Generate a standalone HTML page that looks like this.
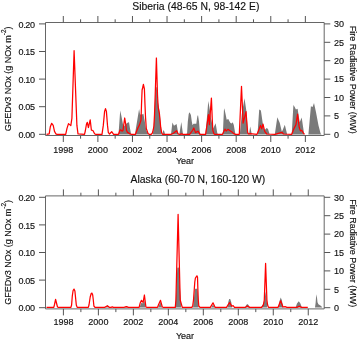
<!DOCTYPE html>
<html><head><meta charset="utf-8"><style>
html,body{margin:0;padding:0;background:#fff;overflow:hidden;width:357px;height:340px;}
svg{display:block;will-change:transform;}
.t{font-family:"Liberation Sans",sans-serif;font-size:9px;fill:#111;stroke:#111;stroke-width:0.15px;}
</style></head><body>
<svg width="357" height="340" viewBox="0 0 357 340">
<polygon points="118.5,134.4 120.2,110.6 121.5,116.4 122.8,123.4 124.0,126.4 126.5,123.4 128.0,122.4 129.0,122.2 130.0,128.4 131.2,134.4 135.0,134.4 135.4,131.4 139.1,108.9 140.1,114.5 142.1,114.5 143.4,113.7 144.6,120.3 146.3,130.4 148.0,133.6 148.5,134.4 152.8,134.4 153.6,128.4 154.5,112.4 155.2,95.3 155.9,87.3 156.7,87.3 157.5,96.3 158.1,103.3 158.8,106.3 159.8,113.4 160.4,120.4 161.0,127.4 161.7,133.4 162.0,134.4 162.3,134.4 163.0,131.4 163.6,130.1 164.3,131.4 165.2,134.4 171.0,134.4 172.4,122.5 174.0,125.7 176.6,124.0 178.2,133.3 179.3,134.4 181.3,122.1 183.0,134.4 186.2,134.4 187.1,133.0 187.8,121.7 188.7,114.0 189.6,112.3 190.9,115.0 191.8,121.6 192.5,125.3 193.5,123.7 196.3,123.7 197.3,116.6 198.0,115.0 199.0,121.6 199.9,132.4 200.5,134.4 205.4,134.4 206.9,117.9 208.3,100.9 209.9,110.4 211.0,118.4 213.2,128.4 215.6,123.3 217.3,132.9 218.0,134.4 222.5,134.4 222.9,132.6 223.9,110.4 224.3,108.3 225.6,114.2 226.7,119.7 228.3,119.1 229.4,121.3 230.5,123.0 231.6,123.4 232.7,122.3 233.8,125.0 234.9,131.6 235.5,134.4 239.8,134.4 241.8,113.9 244.5,98.2 246.3,110.4 248.0,133.6 249.0,134.4 250.2,126.4 251.8,134.4 257.5,134.4 259.2,109.6 260.9,110.5 262.6,122.2 264.2,130.6 266.7,128.1 268.0,128.9 269.7,134.4 274.8,134.4 277.3,117.2 279.8,123.1 281.8,131.4 282.5,130.4 284.8,124.8 287.2,134.4 291.7,134.4 293.4,105.1 294.7,107.1 295.9,109.6 297.6,108.8 299.7,122.2 301.7,117.6 304.2,134.4 308.4,134.4 310.9,106.2 312.6,107.1 314.0,102.9 316.0,112.2 318.5,125.6 320.6,133.6 321.5,134.4" fill="#7a7a7a"/>
<polyline points="46.5,134.4 49.2,133.8 50.3,126.8 51.7,123.3 53.2,125.4 54.5,131.4 55.8,133.8 57.0,134.3 58.0,134.3 65.7,134.3 67.0,128.4 68.5,123.6 70.8,125.6 71.9,118.4 74.1,50.7 76.9,125.4 78.0,133.9 84.5,134.3 85.3,131.0 86.5,124.0 87.3,122.4 88.4,127.5 90.2,119.9 91.4,130.2 92.9,130.5 94.6,133.8 95.5,134.3 102.0,134.3 103.3,125.4 104.6,111.4 105.5,108.6 106.4,111.4 107.5,125.4 108.3,132.4 109.5,134.0 111.7,131.7 113.6,134.3 118.5,134.3 120.0,130.2 120.8,129.9 122.0,131.2 123.0,130.4 124.7,118.0 125.8,124.9 126.5,130.4 127.5,132.4 130.0,133.9 131.5,134.3 135.5,134.3 136.2,132.3 137.9,128.0 139.6,124.6 141.0,120.0 141.5,105.0 142.1,90.0 142.6,88.0 143.4,84.4 144.4,89.0 145.0,105.0 145.5,117.0 146.3,128.5 148.0,133.4 149.0,134.3 151.2,134.3 152.3,133.2 153.2,130.0 153.9,126.0 154.5,115.1 155.2,95.0 156.4,58.0 157.5,95.0 158.2,107.3 159.4,113.6 160.0,119.8 160.7,127.2 161.7,132.8 162.5,134.3 171.3,134.3 173.4,133.3 176.6,130.7 178.2,134.0 180.0,134.3 181.7,133.8 183.0,134.3 189.7,134.3 192.5,130.5 193.8,128.0 195.5,132.6 198.0,131.2 200.0,134.3 205.6,134.3 207.4,122.4 208.5,114.6 209.4,124.6 211.4,98.1 212.2,117.9 212.8,130.2 213.9,133.8 214.6,134.3 222.5,134.3 224.0,131.0 225.1,129.2 226.2,131.0 227.8,129.4 228.9,129.9 230.5,131.0 232.1,132.1 233.8,133.7 235.4,134.3 239.3,134.3 241.5,86.3 243.1,123.1 246.0,111.6 247.6,132.3 248.5,134.0 250.1,133.6 257.0,134.3 259.2,128.9 260.5,125.4 261.7,128.9 263.0,124.1 264.7,131.4 266.7,134.0 275.0,134.3 281.8,132.3 283.5,134.0 291.7,134.3 294.2,128.1 295.9,124.8 297.6,114.2 299.2,127.3 300.4,130.9 301.7,130.3 303.1,132.6 304.5,134.3" fill="none" stroke="#f00" stroke-width="1.25" stroke-linejoin="round"/>
<path d="M45.5 135.5 V22.5 H324.2 V135.5 H45.5" fill="none" stroke="#666" stroke-width="1"/>
<line x1="39" y1="23.90" x2="45.5" y2="23.90" stroke="#555" stroke-width="1"/>
<text x="34.8" y="27.50" text-anchor="end" class="t" letter-spacing="-0.3">0.20</text>
<line x1="39" y1="51.50" x2="45.5" y2="51.50" stroke="#555" stroke-width="1"/>
<text x="34.8" y="55.10" text-anchor="end" class="t" letter-spacing="-0.3">0.15</text>
<line x1="39" y1="79.10" x2="45.5" y2="79.10" stroke="#555" stroke-width="1"/>
<text x="34.8" y="82.70" text-anchor="end" class="t" letter-spacing="-0.3">0.10</text>
<line x1="39" y1="106.70" x2="45.5" y2="106.70" stroke="#555" stroke-width="1"/>
<text x="34.8" y="110.30" text-anchor="end" class="t" letter-spacing="-0.3">0.05</text>
<line x1="39" y1="134.30" x2="45.5" y2="134.30" stroke="#555" stroke-width="1"/>
<text x="34.8" y="137.90" text-anchor="end" class="t" letter-spacing="-0.3">0.00</text>
<line x1="324.2" y1="23.90" x2="330.3" y2="23.90" stroke="#555" stroke-width="1"/>
<text x="334" y="27.10" class="t">30</text>
<line x1="324.2" y1="42.30" x2="330.3" y2="42.30" stroke="#555" stroke-width="1"/>
<text x="334" y="45.50" class="t">25</text>
<line x1="324.2" y1="60.70" x2="330.3" y2="60.70" stroke="#555" stroke-width="1"/>
<text x="334" y="63.90" class="t">20</text>
<line x1="324.2" y1="79.10" x2="330.3" y2="79.10" stroke="#555" stroke-width="1"/>
<text x="334" y="82.30" class="t">15</text>
<line x1="324.2" y1="97.50" x2="330.3" y2="97.50" stroke="#555" stroke-width="1"/>
<text x="334" y="100.70" class="t">10</text>
<line x1="324.2" y1="115.90" x2="330.3" y2="115.90" stroke="#555" stroke-width="1"/>
<text x="334" y="119.10" class="t">5</text>
<line x1="324.2" y1="134.30" x2="330.3" y2="134.30" stroke="#555" stroke-width="1"/>
<text x="334" y="137.50" class="t">0</text>
<line x1="63.30" y1="22.5" x2="63.30" y2="16.0" stroke="#555" stroke-width="1"/>
<line x1="63.30" y1="135.5" x2="63.30" y2="142.0" stroke="#555" stroke-width="1"/>
<text x="63.30" y="153.20" text-anchor="middle" class="t">1998</text>
<line x1="80.59" y1="22.5" x2="80.59" y2="19.3" stroke="#555" stroke-width="1"/>
<line x1="80.59" y1="135.5" x2="80.59" y2="138.7" stroke="#555" stroke-width="1"/>
<line x1="97.88" y1="22.5" x2="97.88" y2="16.0" stroke="#555" stroke-width="1"/>
<line x1="97.88" y1="135.5" x2="97.88" y2="142.0" stroke="#555" stroke-width="1"/>
<text x="97.88" y="153.20" text-anchor="middle" class="t">2000</text>
<line x1="115.17" y1="22.5" x2="115.17" y2="19.3" stroke="#555" stroke-width="1"/>
<line x1="115.17" y1="135.5" x2="115.17" y2="138.7" stroke="#555" stroke-width="1"/>
<line x1="132.46" y1="22.5" x2="132.46" y2="16.0" stroke="#555" stroke-width="1"/>
<line x1="132.46" y1="135.5" x2="132.46" y2="142.0" stroke="#555" stroke-width="1"/>
<text x="132.46" y="153.20" text-anchor="middle" class="t">2002</text>
<line x1="149.75" y1="22.5" x2="149.75" y2="19.3" stroke="#555" stroke-width="1"/>
<line x1="149.75" y1="135.5" x2="149.75" y2="138.7" stroke="#555" stroke-width="1"/>
<line x1="167.04" y1="22.5" x2="167.04" y2="16.0" stroke="#555" stroke-width="1"/>
<line x1="167.04" y1="135.5" x2="167.04" y2="142.0" stroke="#555" stroke-width="1"/>
<text x="167.04" y="153.20" text-anchor="middle" class="t">2004</text>
<line x1="184.33" y1="22.5" x2="184.33" y2="19.3" stroke="#555" stroke-width="1"/>
<line x1="184.33" y1="135.5" x2="184.33" y2="138.7" stroke="#555" stroke-width="1"/>
<line x1="201.62" y1="22.5" x2="201.62" y2="16.0" stroke="#555" stroke-width="1"/>
<line x1="201.62" y1="135.5" x2="201.62" y2="142.0" stroke="#555" stroke-width="1"/>
<text x="201.62" y="153.20" text-anchor="middle" class="t">2006</text>
<line x1="218.91" y1="22.5" x2="218.91" y2="19.3" stroke="#555" stroke-width="1"/>
<line x1="218.91" y1="135.5" x2="218.91" y2="138.7" stroke="#555" stroke-width="1"/>
<line x1="236.20" y1="22.5" x2="236.20" y2="16.0" stroke="#555" stroke-width="1"/>
<line x1="236.20" y1="135.5" x2="236.20" y2="142.0" stroke="#555" stroke-width="1"/>
<text x="236.20" y="153.20" text-anchor="middle" class="t">2008</text>
<line x1="253.49" y1="22.5" x2="253.49" y2="19.3" stroke="#555" stroke-width="1"/>
<line x1="253.49" y1="135.5" x2="253.49" y2="138.7" stroke="#555" stroke-width="1"/>
<line x1="270.78" y1="22.5" x2="270.78" y2="16.0" stroke="#555" stroke-width="1"/>
<line x1="270.78" y1="135.5" x2="270.78" y2="142.0" stroke="#555" stroke-width="1"/>
<text x="270.78" y="153.20" text-anchor="middle" class="t">2010</text>
<line x1="288.07" y1="22.5" x2="288.07" y2="19.3" stroke="#555" stroke-width="1"/>
<line x1="288.07" y1="135.5" x2="288.07" y2="138.7" stroke="#555" stroke-width="1"/>
<line x1="305.36" y1="22.5" x2="305.36" y2="16.0" stroke="#555" stroke-width="1"/>
<line x1="305.36" y1="135.5" x2="305.36" y2="142.0" stroke="#555" stroke-width="1"/>
<text x="305.36" y="153.20" text-anchor="middle" class="t">2012</text>
<text x="185" y="164.10" text-anchor="middle" class="t">Year</text>
<text x="132.3" y="9.70" class="t" style="font-size:10.4px">Siberia (48-65 N, 98-142 E)</text>
<text transform="translate(11.2 131.30) rotate(-90)" class="t">GFEDv3 NOx (g NOx m<tspan dy="-4.8" style="font-size:6.5px">-2</tspan><tspan dy="4.8">)</tspan></text>
<text transform="translate(349.6 25.80) rotate(90)" class="t">Fire Radiative Power (MW)</text>
<polygon points="105.5,307.4 107.4,305.3 109.3,307.4 124.5,307.4 126.4,306.0 128.3,307.4 139.5,307.4 141.5,302.5 143.0,303.5 144.4,300.0 145.5,307.4 158.0,307.4 160.5,302.0 162.0,307.4 175.5,307.4 176.7,280.0 177.3,268.0 178.1,267.2 178.9,268.0 179.5,280.0 181.3,307.4 193.0,307.4 193.8,300.0 194.8,290.0 195.3,288.8 197.3,288.8 197.8,292.0 198.3,300.0 198.7,307.4 211.0,307.4 213.0,304.4 214.8,307.4 227.3,307.4 228.3,302.0 229.2,299.1 230.2,299.1 231.2,302.0 232.2,307.4 244.8,307.4 246.3,305.0 247.3,304.1 248.5,305.0 250.0,307.4 261.3,307.4 262.3,305.0 263.5,304.0 264.5,300.0 265.7,291.2 266.7,300.0 267.3,307.4 278.6,307.4 279.6,301.0 280.7,297.4 281.8,300.0 283.3,307.4 295.6,307.4 297.0,303.5 298.8,301.2 300.4,303.5 301.9,307.4 315.0,307.4 315.6,303.0 316.3,294.3 317.0,297.7 317.5,302.3 318.4,304.3 320.4,305.4 321.6,306.4 322.3,307.4" fill="#7a7a7a"/>
<polyline points="46.5,307.4 53.8,307.4 54.5,304.5 55.6,299.3 56.6,303.5 57.5,307.0 58.5,307.4 70.9,307.4 71.6,305.0 72.3,296.0 73.1,290.5 74.0,289.1 74.9,291.0 75.5,297.0 76.3,305.0 77.2,307.4 88.3,307.4 89.0,305.0 90.2,297.0 91.2,293.5 91.9,293.1 92.7,295.0 93.3,300.0 93.9,306.0 95.0,307.4 104.7,307.4 107.4,305.8 109.6,307.4 111.0,307.4 112.3,306.9 113.5,307.4 124.0,307.4 126.4,306.6 128.5,307.4 139.1,307.4 140.3,302.7 141.5,300.4 143.1,302.3 144.4,295.0 145.9,307.0 147.0,307.4 157.5,307.4 158.4,305.0 160.5,300.3 162.3,307.0 163.5,307.4 175.3,307.4 175.9,300.0 178.1,214.3 180.2,300.0 182.3,307.4 191.9,307.4 192.8,305.2 193.5,300.0 194.8,282.0 195.4,278.0 196.9,275.8 197.5,277.0 197.9,290.0 198.3,300.0 198.8,306.0 200.0,307.4 210.3,307.4 213.0,302.8 215.2,307.4 226.5,307.4 227.6,305.5 229.7,302.6 231.8,306.2 233.1,305.6 234.5,307.4 245.2,307.4 247.3,306.0 249.6,307.4 261.5,307.4 263.3,305.0 264.3,300.0 265.6,263.4 266.9,300.0 267.6,305.0 268.5,307.4 278.0,307.4 280.6,300.8 283.0,307.0 285.0,306.6 287.0,307.4 297.0,307.4 299.2,306.2 301.5,307.4 307.8,307.4" fill="none" stroke="#f00" stroke-width="1.25" stroke-linejoin="round"/>
<path d="M45.5 308.9 V195.9 H324.2 V308.9 H45.5" fill="none" stroke="#666" stroke-width="1"/>
<line x1="39" y1="197.30" x2="45.5" y2="197.30" stroke="#555" stroke-width="1"/>
<text x="34.8" y="200.90" text-anchor="end" class="t" letter-spacing="-0.3">0.20</text>
<line x1="39" y1="224.90" x2="45.5" y2="224.90" stroke="#555" stroke-width="1"/>
<text x="34.8" y="228.50" text-anchor="end" class="t" letter-spacing="-0.3">0.15</text>
<line x1="39" y1="252.50" x2="45.5" y2="252.50" stroke="#555" stroke-width="1"/>
<text x="34.8" y="256.10" text-anchor="end" class="t" letter-spacing="-0.3">0.10</text>
<line x1="39" y1="280.10" x2="45.5" y2="280.10" stroke="#555" stroke-width="1"/>
<text x="34.8" y="283.70" text-anchor="end" class="t" letter-spacing="-0.3">0.05</text>
<line x1="39" y1="307.70" x2="45.5" y2="307.70" stroke="#555" stroke-width="1"/>
<text x="34.8" y="311.30" text-anchor="end" class="t" letter-spacing="-0.3">0.00</text>
<line x1="324.2" y1="197.30" x2="330.3" y2="197.30" stroke="#555" stroke-width="1"/>
<text x="334" y="200.50" class="t">30</text>
<line x1="324.2" y1="215.70" x2="330.3" y2="215.70" stroke="#555" stroke-width="1"/>
<text x="334" y="218.90" class="t">25</text>
<line x1="324.2" y1="234.10" x2="330.3" y2="234.10" stroke="#555" stroke-width="1"/>
<text x="334" y="237.30" class="t">20</text>
<line x1="324.2" y1="252.50" x2="330.3" y2="252.50" stroke="#555" stroke-width="1"/>
<text x="334" y="255.70" class="t">15</text>
<line x1="324.2" y1="270.90" x2="330.3" y2="270.90" stroke="#555" stroke-width="1"/>
<text x="334" y="274.10" class="t">10</text>
<line x1="324.2" y1="289.30" x2="330.3" y2="289.30" stroke="#555" stroke-width="1"/>
<text x="334" y="292.50" class="t">5</text>
<line x1="324.2" y1="307.70" x2="330.3" y2="307.70" stroke="#555" stroke-width="1"/>
<text x="334" y="310.90" class="t">0</text>
<line x1="63.40" y1="195.9" x2="63.40" y2="189.4" stroke="#555" stroke-width="1"/>
<line x1="63.40" y1="308.9" x2="63.40" y2="315.4" stroke="#555" stroke-width="1"/>
<text x="63.40" y="325.20" text-anchor="middle" class="t">1998</text>
<line x1="80.89" y1="195.9" x2="80.89" y2="192.70000000000002" stroke="#555" stroke-width="1"/>
<line x1="80.89" y1="308.9" x2="80.89" y2="312.09999999999997" stroke="#555" stroke-width="1"/>
<line x1="98.38" y1="195.9" x2="98.38" y2="189.4" stroke="#555" stroke-width="1"/>
<line x1="98.38" y1="308.9" x2="98.38" y2="315.4" stroke="#555" stroke-width="1"/>
<text x="98.38" y="325.20" text-anchor="middle" class="t">2000</text>
<line x1="115.87" y1="195.9" x2="115.87" y2="192.70000000000002" stroke="#555" stroke-width="1"/>
<line x1="115.87" y1="308.9" x2="115.87" y2="312.09999999999997" stroke="#555" stroke-width="1"/>
<line x1="133.36" y1="195.9" x2="133.36" y2="189.4" stroke="#555" stroke-width="1"/>
<line x1="133.36" y1="308.9" x2="133.36" y2="315.4" stroke="#555" stroke-width="1"/>
<text x="133.36" y="325.20" text-anchor="middle" class="t">2002</text>
<line x1="150.85" y1="195.9" x2="150.85" y2="192.70000000000002" stroke="#555" stroke-width="1"/>
<line x1="150.85" y1="308.9" x2="150.85" y2="312.09999999999997" stroke="#555" stroke-width="1"/>
<line x1="168.34" y1="195.9" x2="168.34" y2="189.4" stroke="#555" stroke-width="1"/>
<line x1="168.34" y1="308.9" x2="168.34" y2="315.4" stroke="#555" stroke-width="1"/>
<text x="168.34" y="325.20" text-anchor="middle" class="t">2004</text>
<line x1="185.83" y1="195.9" x2="185.83" y2="192.70000000000002" stroke="#555" stroke-width="1"/>
<line x1="185.83" y1="308.9" x2="185.83" y2="312.09999999999997" stroke="#555" stroke-width="1"/>
<line x1="203.32" y1="195.9" x2="203.32" y2="189.4" stroke="#555" stroke-width="1"/>
<line x1="203.32" y1="308.9" x2="203.32" y2="315.4" stroke="#555" stroke-width="1"/>
<text x="203.32" y="325.20" text-anchor="middle" class="t">2006</text>
<line x1="220.81" y1="195.9" x2="220.81" y2="192.70000000000002" stroke="#555" stroke-width="1"/>
<line x1="220.81" y1="308.9" x2="220.81" y2="312.09999999999997" stroke="#555" stroke-width="1"/>
<line x1="238.30" y1="195.9" x2="238.30" y2="189.4" stroke="#555" stroke-width="1"/>
<line x1="238.30" y1="308.9" x2="238.30" y2="315.4" stroke="#555" stroke-width="1"/>
<text x="238.30" y="325.20" text-anchor="middle" class="t">2008</text>
<line x1="255.79" y1="195.9" x2="255.79" y2="192.70000000000002" stroke="#555" stroke-width="1"/>
<line x1="255.79" y1="308.9" x2="255.79" y2="312.09999999999997" stroke="#555" stroke-width="1"/>
<line x1="273.28" y1="195.9" x2="273.28" y2="189.4" stroke="#555" stroke-width="1"/>
<line x1="273.28" y1="308.9" x2="273.28" y2="315.4" stroke="#555" stroke-width="1"/>
<text x="273.28" y="325.20" text-anchor="middle" class="t">2010</text>
<line x1="290.77" y1="195.9" x2="290.77" y2="192.70000000000002" stroke="#555" stroke-width="1"/>
<line x1="290.77" y1="308.9" x2="290.77" y2="312.09999999999997" stroke="#555" stroke-width="1"/>
<line x1="308.26" y1="195.9" x2="308.26" y2="189.4" stroke="#555" stroke-width="1"/>
<line x1="308.26" y1="308.9" x2="308.26" y2="315.4" stroke="#555" stroke-width="1"/>
<text x="308.26" y="325.20" text-anchor="middle" class="t">2012</text>
<text x="185" y="339.00" text-anchor="middle" class="t">Year</text>
<text x="130.6" y="183.10" class="t" style="font-size:10.4px">Alaska (60-70 N, 160-120 W)</text>
<text transform="translate(11.2 304.70) rotate(-90)" class="t">GFEDv3 NOx (g NOx m<tspan dy="-4.8" style="font-size:6.5px">-2</tspan><tspan dy="4.8">)</tspan></text>
<text transform="translate(349.6 199.20) rotate(90)" class="t">Fire Radiative Power (MW)</text>
</svg>
</body></html>
